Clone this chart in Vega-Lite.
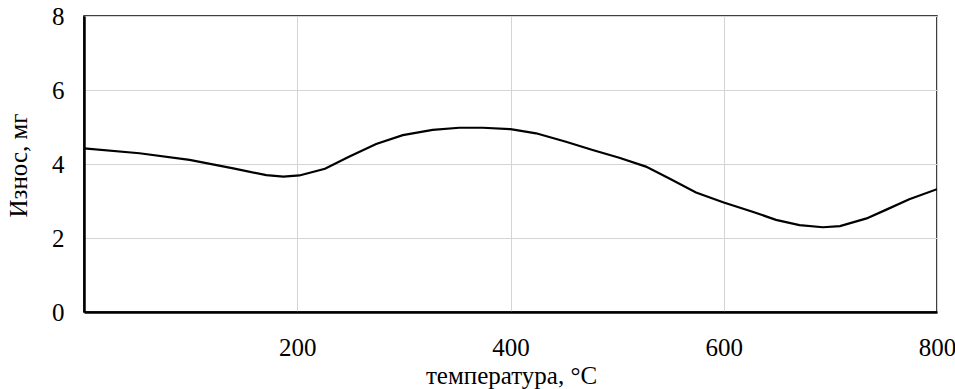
{
  "$schema": "https://vega.github.io/schema/vega-lite/v6.json",
  "width": 853,
  "height": 296,
  "autosize": "none",
  "padding": {"left": 84, "top": 16, "right": 18, "bottom": 77},
  "background": "white",
  "config": {
    "font": "Liberation Serif",
    "view": {"stroke": "#000000", "strokeWidth": 1.5},
    "axis": {
      "labelFont": "Liberation Serif",
      "titleFont": "Liberation Serif",
      "labelFontSize": 25,
      "titleFontSize": 25,
      "labelColor": "#000000",
      "titleColor": "#000000",
      "titleFontWeight": "normal",
      "gridColor": "#d4d4d4",
      "gridWidth": 1,
      "domainColor": "#000000",
      "domainWidth": 2.5,
      "ticks": false
    }
  },
  "data": {
    "values": [
      {"t": 0, "wear": 4.42},
      {"t": 52, "wear": 4.29},
      {"t": 99, "wear": 4.11},
      {"t": 140, "wear": 3.88},
      {"t": 171, "wear": 3.7},
      {"t": 187, "wear": 3.66},
      {"t": 202, "wear": 3.69},
      {"t": 226, "wear": 3.87},
      {"t": 249, "wear": 4.2},
      {"t": 274, "wear": 4.54},
      {"t": 299, "wear": 4.78},
      {"t": 327, "wear": 4.92},
      {"t": 352, "wear": 4.98},
      {"t": 374, "wear": 4.98},
      {"t": 400, "wear": 4.94},
      {"t": 424, "wear": 4.83},
      {"t": 452, "wear": 4.6},
      {"t": 477, "wear": 4.38},
      {"t": 502, "wear": 4.17},
      {"t": 527, "wear": 3.93},
      {"t": 549, "wear": 3.61},
      {"t": 574, "wear": 3.23},
      {"t": 600, "wear": 2.96},
      {"t": 627, "wear": 2.71},
      {"t": 649, "wear": 2.49},
      {"t": 671, "wear": 2.35},
      {"t": 693, "wear": 2.29},
      {"t": 709, "wear": 2.32},
      {"t": 734, "wear": 2.53},
      {"t": 752, "wear": 2.76},
      {"t": 774, "wear": 3.05},
      {"t": 800, "wear": 3.32}
    ]
  },
  "mark": {"type": "line", "color": "#000000", "strokeWidth": 2.2, "clip": true},
  "encoding": {
    "x": {
      "field": "t",
      "type": "quantitative",
      "scale": {"domain": [0, 800], "nice": false, "zero": false},
      "axis": {
        "title": "температура, °C",
        "values": [200, 400, 600, 800],
        "labelPadding": 23,
        "titleBaseline": "alphabetic",
        "titleY": 71,
        "titleX": 427,
        "labelFlush": false
      }
    },
    "y": {
      "field": "wear",
      "type": "quantitative",
      "scale": {"domain": [0, 8], "nice": false},
      "axis": {
        "title": "Износ, мг",
        "values": [0, 2, 4, 6, 8],
        "labelPadding": 20,
        "titleBaseline": "alphabetic",
        "titleX": -58,
        "titleY": 149,
        "labelFlush": false
      }
    }
  }
}
